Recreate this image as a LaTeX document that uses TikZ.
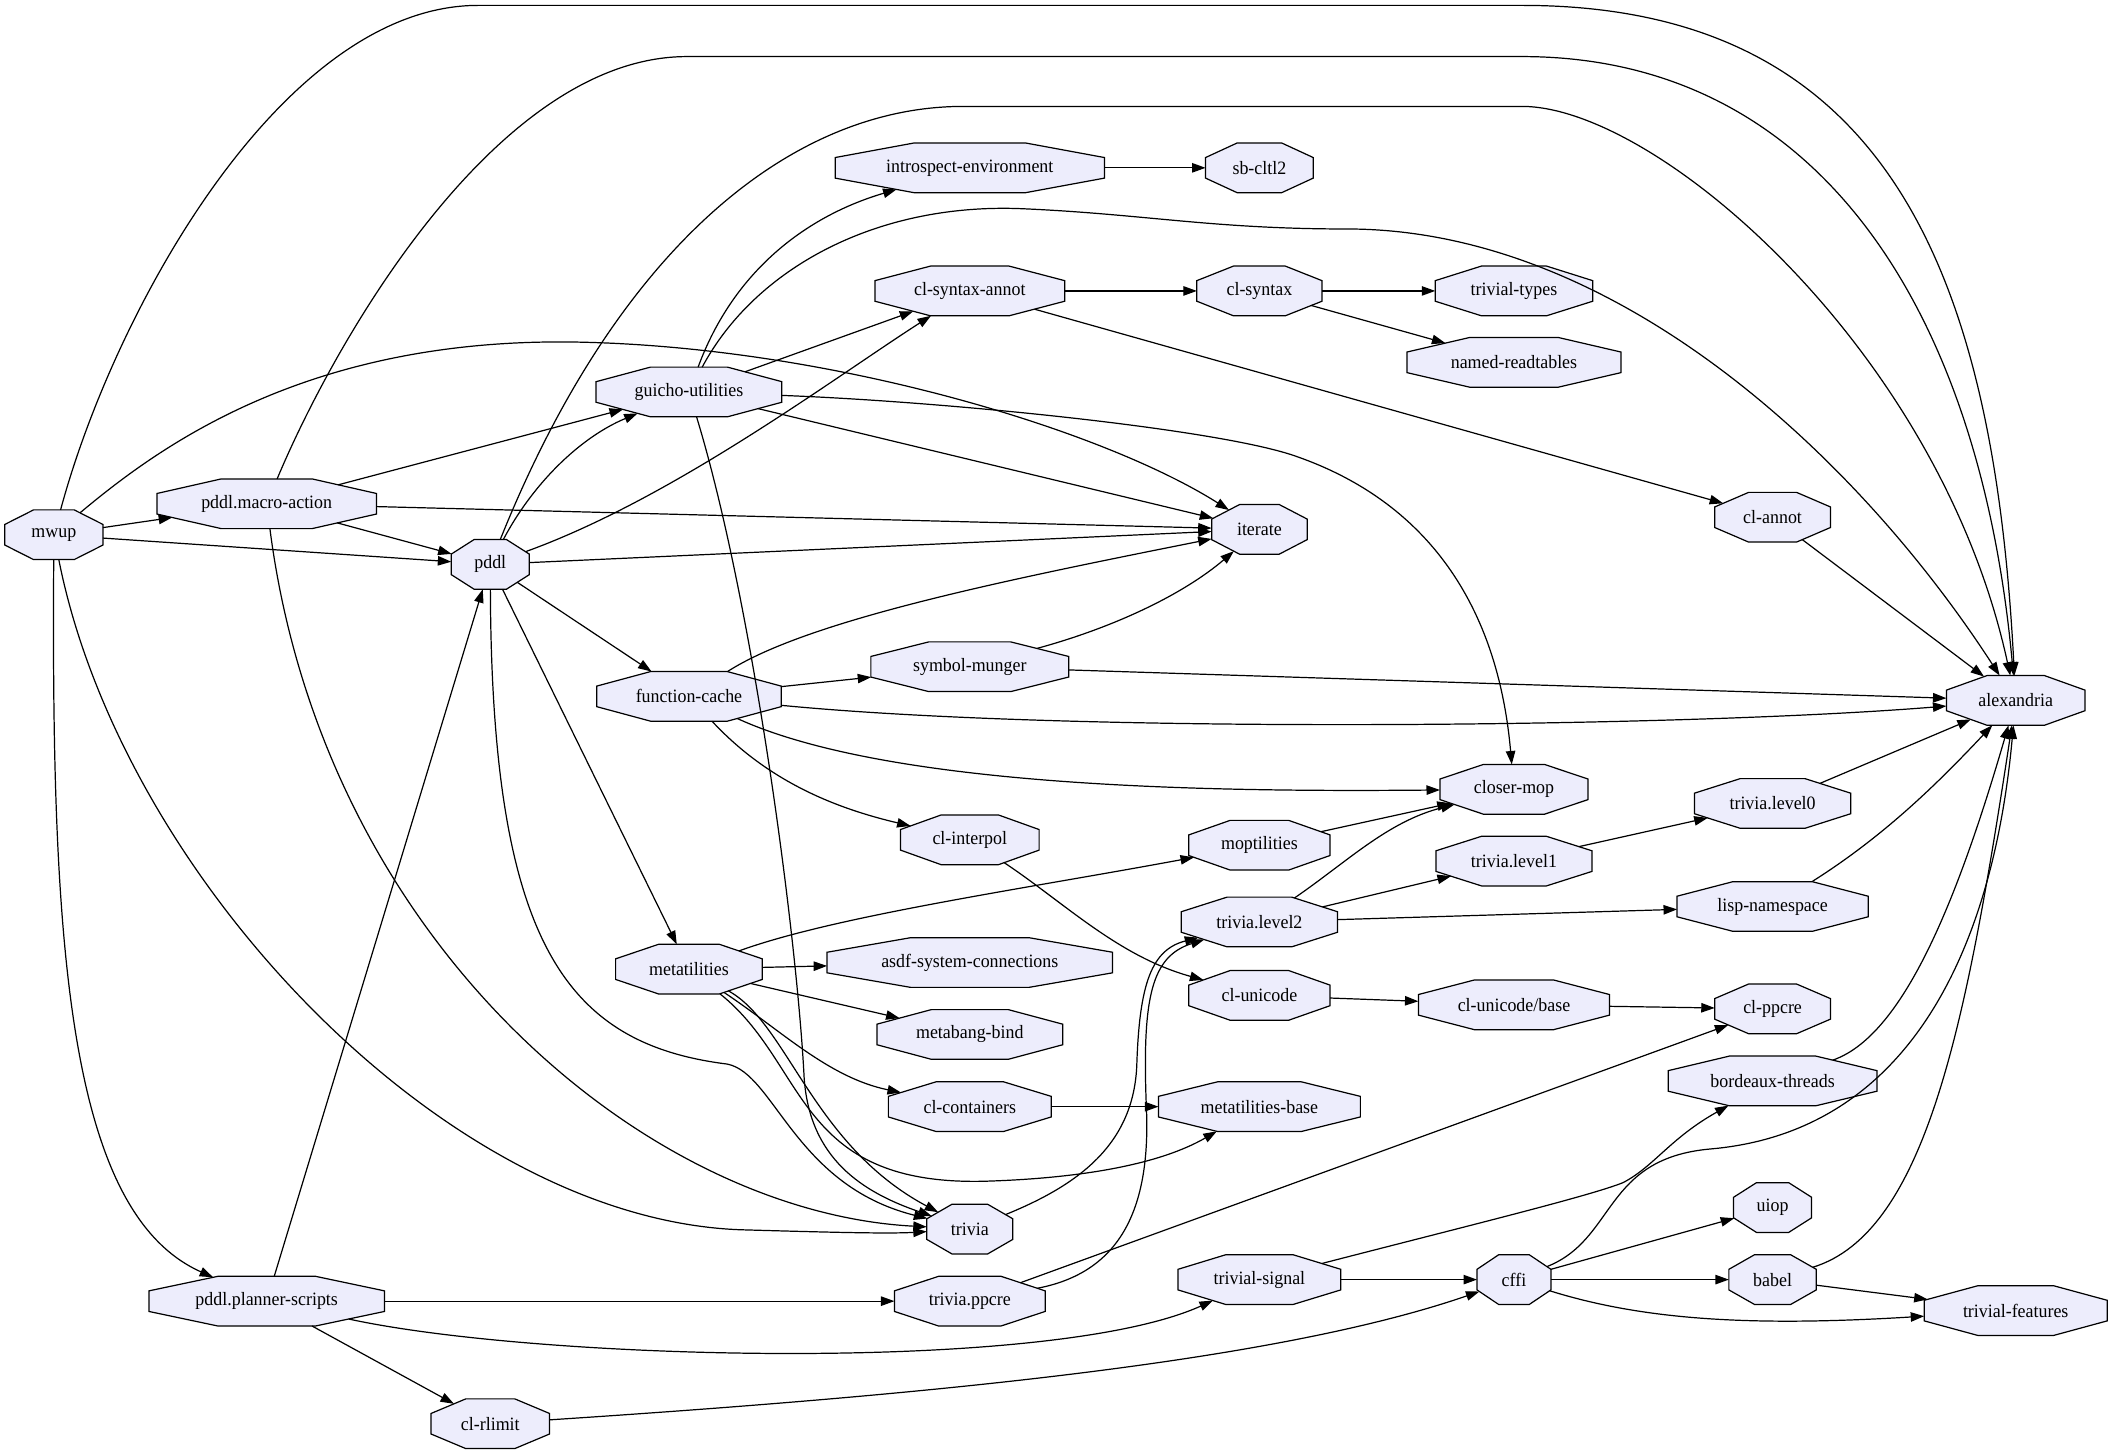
\documentclass[tikz,border=0pt]{standalone}
\usepackage{fontspec}
\setmainfont{Liberation Serif}[FakeStretch=0.95]
\usepackage{tikz}
\usetikzlibrary{arrows.meta}
\definecolor{pkgfill}{HTML}{EDEDFC}

% octagon stretched to the node box, cut at 0.2929 of width and height
\makeatletter
\pgfdeclareshape{pkgoctagon}{%
  \inheritsavedanchors[from=rectangle]
  \inheritanchor[from=rectangle]{center}
  \inheritanchor[from=rectangle]{north}
  \inheritanchor[from=rectangle]{south}
  \inheritanchor[from=rectangle]{east}
  \inheritanchor[from=rectangle]{west}
  \inheritanchor[from=rectangle]{text}
  \inheritanchor[from=rectangle]{base}
  \inheritanchor[from=rectangle]{mid}
  \backgroundpath{%
    \southwest \pgf@xa=\pgf@x \pgf@ya=\pgf@y
    \northeast \pgf@xb=\pgf@x \pgf@yb=\pgf@y
    \pgf@xc=\pgf@xb \advance\pgf@xc by-\pgf@xa \pgf@xc=0.29289\pgf@xc
    \pgf@yc=\pgf@yb \advance\pgf@yc by-\pgf@ya \pgf@yc=0.29289\pgf@yc
    \edef\octL{\the\pgf@xa}\edef\octR{\the\pgf@xb}%
    \edef\octB{\the\pgf@ya}\edef\octT{\the\pgf@yb}%
    \pgf@x=\pgf@xa \advance\pgf@x by\pgf@xc \edef\octXi{\the\pgf@x}%
    \pgf@x=\pgf@xb \advance\pgf@x by-\pgf@xc \edef\octXii{\the\pgf@x}%
    \pgf@y=\pgf@ya \advance\pgf@y by\pgf@yc \edef\octYi{\the\pgf@y}%
    \pgf@y=\pgf@yb \advance\pgf@y by-\pgf@yc \edef\octYii{\the\pgf@y}%
    \pgfpathmoveto{\pgfqpoint{\octL}{\octYi}}%
    \pgfpathlineto{\pgfqpoint{\octL}{\octYii}}%
    \pgfpathlineto{\pgfqpoint{\octXi}{\octT}}%
    \pgfpathlineto{\pgfqpoint{\octXii}{\octT}}%
    \pgfpathlineto{\pgfqpoint{\octR}{\octYii}}%
    \pgfpathlineto{\pgfqpoint{\octR}{\octYi}}%
    \pgfpathlineto{\pgfqpoint{\octXii}{\octB}}%
    \pgfpathlineto{\pgfqpoint{\octXi}{\octB}}%
    \pgfpathclose
  }
  \anchorborder{%
    \edef\octdx{\the\pgf@x}\edef\octdy{\the\pgf@y}%
    \southwest \pgf@xa=\pgf@x \pgf@ya=\pgf@y
    \northeast \pgf@xb=\pgf@x \pgf@yb=\pgf@y
    \pgf@xc=\pgf@xb \advance\pgf@xc by-\pgf@xa \pgf@xc=.5\pgf@xc
    \pgf@yc=\pgf@yb \advance\pgf@yc by-\pgf@ya \pgf@yc=.5\pgf@yc
    \advance\pgf@xa by\pgf@xc \advance\pgf@ya by\pgf@yc
    \edef\octcx{\the\pgf@xa}\edef\octcy{\the\pgf@ya}%
    \edef\octa{\the\pgf@xc}\edef\octb{\the\pgf@yc}%
    \pgfpointnormalised{\pgfqpoint{\octdx}{\octdy}}%
    \edef\octu{\the\pgf@x}\edef\octv{\the\pgf@y}%
    \pgfmathsetmacro\octt{min(min(\octa/max(abs(\octu),0.01),\octb/max(abs(\octv),0.01)),1.41421/(abs(\octu)/\octa+abs(\octv)/\octb))}%
    \pgf@x=\octu \pgf@x=\octt\pgf@x \advance\pgf@x by\octcx
    \pgf@y=\octv \pgf@y=\octt\pgf@y \advance\pgf@y by\octcy
  }
}
\makeatother

\begin{document}
\begin{tikzpicture}[x=1pt,y=-1pt,
    pkg/.style={shape=pkgoctagon, draw, fill=pkgfill, line width=0.9pt, inner sep=0pt,
      minimum height=36pt, minimum width=#1pt,
      font=\fontsize{14pt}{16pt}\selectfont},
    dep/.style={-{Triangle[length=10pt,width=7pt]}, line width=0.9pt}]
        \useasboundingbox (0,0) rectangle (1568,1078.8);

        % Define the nodes
        \node[pkg=72] (mwup) at (40,397) {mwup};
        \node[pkg=162] (macroaction) at (198,374) {pddl.macro-action};
        \node[pkg=174] (plannerscripts) at (198,966) {pddl.planner-scripts};
        \node[pkg=57] (pddl) at (364,419) {pddl};
        \node[pkg=87] (rlimit) at (364,1057) {cl-rlimit};
        \node[pkg=137] (guicho) at (511.5,291) {guicho-utilities};
        \node[pkg=136] (fcache) at (511.5,517) {function-cache};
        \node[pkg=108] (metatil) at (511.5,719.5) {metatilities};
        \node[pkg=199] (introspect) at (720,124.6) {introspect-environment};
        \node[pkg=140] (syntaxannot) at (720,216) {cl-syntax-annot};
        \node[pkg=146] (munger) at (720,495) {symbol-munger};
        \node[pkg=102] (interpol) at (720,623.5) {cl-interpol};
        \node[pkg=211] (asdfsys) at (720,714.6) {asdf-system-connections};
        \node[pkg=137] (mbind) at (720,768) {metabang-bind};
        \node[pkg=120] (containers) at (720,821.6) {cl-containers};
        \node[pkg=63] (trivia) at (720,912.5) {trivia};
        \node[pkg=111] (tppcre) at (720,966) {trivia.ppcre};
        \node[pkg=79] (sbcltl) at (935,124.6) {sb-cltl2};
        \node[pkg=92] (clsyntax) at (935,216) {cl-syntax};
        \node[pkg=70] (iterate) at (935,393) {iterate};
        \node[pkg=104] (moptil) at (935,627.5) {moptilities};
        \node[pkg=115] (tlevel2) at (935,684.5) {trivia.level2};
        \node[pkg=104] (unicode) at (935,739) {cl-unicode};
        \node[pkg=149] (metabase) at (935,821.6) {metatilities-base};
        \node[pkg=120] (tsignal) at (935,950) {trivial-signal};
        \node[pkg=116] (ttypes) at (1124,216) {trivial-types};
        \node[pkg=158] (readtables) at (1124,269) {named-readtables};
        \node[pkg=109] (closermop) at (1124,586) {closer-mop};
        \node[pkg=115] (tlevel1) at (1124,639.3) {trivia.level1};
        \node[pkg=141] (unibase) at (1124,746) {cl-unicode/base};
        \node[pkg=54] (cffi) at (1124,950) {cffi};
        \node[pkg=85] (clannot) at (1316,384) {cl-annot};
        \node[pkg=115] (tlevel0) at (1316,596.5) {trivia.level0};
        \node[pkg=141] (lispns) at (1316,673) {lisp-namespace};
        \node[pkg=85] (ppcre) at (1316,749) {cl-ppcre};
        \node[pkg=154] (bthreads) at (1316,802.5) {bordeaux-threads};
        \node[pkg=57] (uiop) at (1316,896.5) {uiop};
        \node[pkg=64] (babel) at (1316,950) {babel};
        \node[pkg=102] (alexandria) at (1496.5,520) {alexandria};
        \node[pkg=135] (tfeatures) at (1496.5,973) {trivial-features};

        % Draw the links
        \draw[dep] (mwup) .. controls (85,230) and (210,4) .. (355,4) -- (1130,4) .. controls (1400,4) and (1480,200) .. (alexandria);
        \draw[dep] (mwup) -- (macroaction);
        \draw[dep] (mwup) -- (pddl);
        \draw[dep] (mwup) .. controls (120,330) and (230,250) .. (430,254) .. controls (620,258) and (820,320) .. (iterate);
        \draw[dep] (mwup) .. controls (90,650) and (330,905) .. (550,913) .. controls (620,915) and (660,916) .. (trivia);
        \draw[dep] (mwup) .. controls (38,700) and (50,900) .. (plannerscripts);

        \draw[dep] (macroaction) .. controls (250,250) and (370,42) .. (510,42) -- (1130,42) .. controls (1350,42) and (1470,230) .. (alexandria);
        \draw[dep] (macroaction) -- (guicho);
        \draw[dep] (macroaction) -- (iterate);
        \draw[dep] (macroaction) -- (pddl);
        \draw[dep] (macroaction) .. controls (240,700) and (480,900) .. (trivia);

        \draw[dep] (pddl) .. controls (460,180) and (590,79) .. (715,79) -- (1130,79) .. controls (1230,79) and (1440,260) .. (alexandria);
        \draw[dep] (pddl) .. controls (395,360) and (430,325) .. (guicho);
        \draw[dep] (pddl) .. controls (500,370) and (620,280) .. (syntaxannot);
        \draw[dep] (pddl) -- (iterate);
        \draw[dep] (pddl) -- (fcache);
        \draw[dep] (pddl) -- (metatil);
        \draw[dep] (pddl) .. controls (365,700) and (420,775) .. (540,790) .. controls (575,797) and (590,880) .. (trivia);

        \draw[dep] (guicho) .. controls (545,200) and (600,160) .. (introspect);
        \draw[dep] (guicho) .. controls (560,200) and (650,150) .. (760,155) .. controls (850,159) and (900,170) .. (1000,170) .. controls (1200,170) and (1380,340) .. (alexandria);
        \draw[dep] (guicho) -- (syntaxannot);
        \draw[dep] (guicho) -- (iterate);
        \draw[dep] (guicho) .. controls (700,298) and (900,318) .. (960,338) .. controls (1060,372) and (1112,450) .. (closermop);
        \draw[dep] (guicho) .. controls (560,450) and (592,700) .. (597,800) .. controls (601,860) and (640,885) .. (trivia);

        \draw[dep] (introspect) -- (sbcltl);
        \draw[dep] (syntaxannot) -- (clsyntax);
        \draw[dep] (syntaxannot) -- (clannot);
        \draw[dep] (clsyntax) -- (ttypes);
        \draw[dep] (clsyntax) -- (readtables);
        \draw[dep] (clannot) -- (alexandria);

        \draw[dep] (fcache) .. controls (600,460) and (750,430) .. (iterate);
        \draw[dep] (fcache) -- (munger);
        \draw[dep] (fcache) .. controls (800,545) and (1250,540) .. (alexandria);
        \draw[dep] (fcache) .. controls (660,585) and (900,588) .. (closermop);
        \draw[dep] (fcache) .. controls (570,580) and (620,600) .. (interpol);
        \draw[dep] (munger) .. controls (830,465) and (880,440) .. (iterate);
        \draw[dep] (munger) -- (alexandria);
        \draw[dep] (interpol) .. controls (790,670) and (830,710) .. (unicode);

        \draw[dep] (metatil) .. controls (620,680) and (760,660) .. (moptil);
        \draw[dep] (metatil) -- (asdfsys);
        \draw[dep] (metatil) -- (mbind);
        \draw[dep] (metatil) .. controls (580,765) and (615,800) .. (containers);
        \draw[dep] (metatil) .. controls (600,790) and (590,880) .. (730,877) .. controls (800,875) and (860,865) .. (metabase);
        \draw[dep] (metatil) .. controls (585,760) and (603,850) .. (trivia);
        \draw[dep] (containers) -- (metabase);

        \draw[dep] (moptil) -- (closermop);
        \draw[dep] (tlevel2) .. controls (1000,640) and (1030,610) .. (closermop);
        \draw[dep] (tlevel2) -- (tlevel1);
        \draw[dep] (tlevel2) -- (lispns);
        \draw[dep] (tlevel1) -- (tlevel0);
        \draw[dep] (tlevel0) -- (alexandria);
        \draw[dep] (lispns) .. controls (1400,620) and (1440,580) .. (alexandria);
        \draw[dep] (unicode) -- (unibase);
        \draw[dep] (unibase) -- (ppcre);

        \draw[dep] (trivia) .. controls (800,880) and (842,850) .. (844,790) .. controls (846,730) and (855,705) .. (tlevel2);
        \draw[dep] (tppcre) .. controls (830,945) and (855,900) .. (851,820) .. controls (848,740) and (855,710) .. (tlevel2);
        \draw[dep] (tppcre) -- (ppcre);

        \draw[dep] (tsignal) -- (cffi);
        \draw[dep] (tsignal) .. controls (1090,910) and (1180,888) .. (1205,878) .. controls (1228,866) and (1240,845) .. (bthreads);
        \draw[dep] (bthreads) .. controls (1410,770) and (1450,680) .. (alexandria);
        \draw[dep] (cffi) .. controls (1200,920) and (1190,860) .. (1270,853) .. controls (1420,840) and (1480,700) .. (alexandria);
        \draw[dep] (cffi) -- (uiop);
        \draw[dep] (cffi) -- (babel);
        \draw[dep] (cffi) .. controls (1220,980) and (1300,985) .. (tfeatures);
        \draw[dep] (babel) .. controls (1430,915) and (1460,760) .. (alexandria);
        \draw[dep] (babel) -- (tfeatures);

        \draw[dep] (plannerscripts) -- (pddl);
        \draw[dep] (plannerscripts) -- (tppcre);
        \draw[dep] (plannerscripts) .. controls (400,1010) and (780,1020) .. (tsignal);
        \draw[dep] (plannerscripts) -- (rlimit);
        \draw[dep] (rlimit) .. controls (700,1035) and (950,1010) .. (cffi);
    \end{tikzpicture}
\end{document}
